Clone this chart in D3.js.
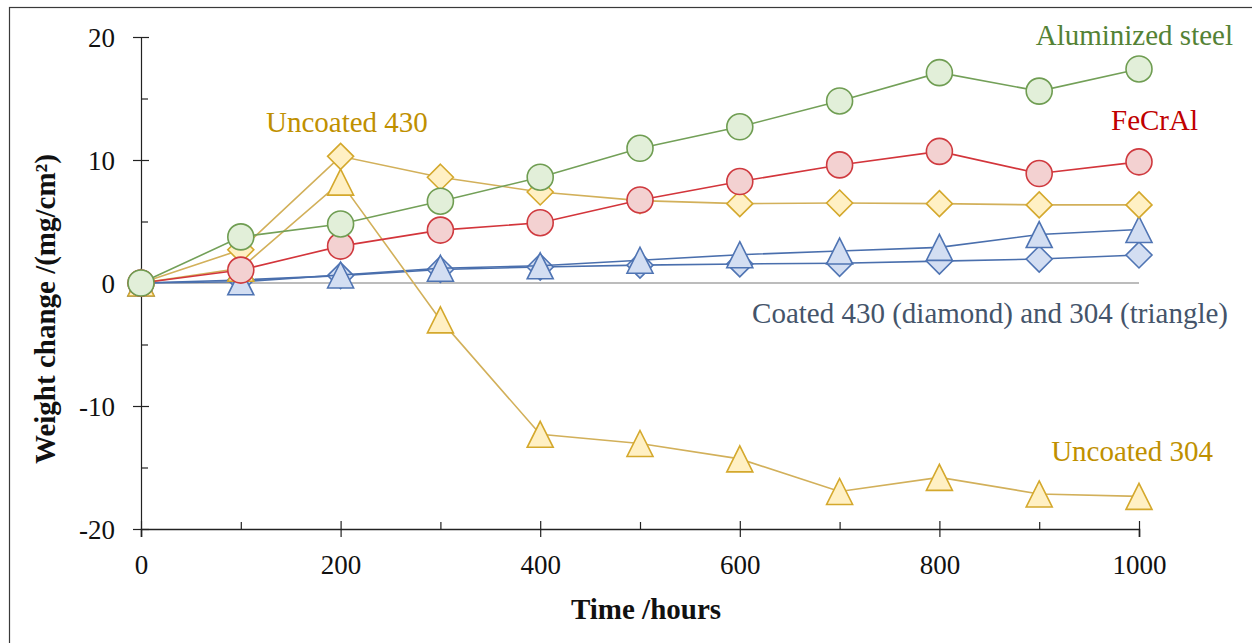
<!DOCTYPE html>
<html>
<head>
<meta charset="utf-8">
<script src="https://cdn.jsdelivr.net/npm/d3@7"></script>
<style>
  html, body { margin: 0; padding: 0; background: #fff; }
  svg { display: block; font-family: "Liberation Serif", "Times New Roman", serif; }
</style>
</head>
<body>
<svg id="chart" width="1252" height="643"></svg>
<script>
// ---- data ----
const hours = [0, 100, 200, 300, 400, 500, 600, 700, 800, 900, 1000];
const aluminizedSteel = [0, 3.75, 4.8, 6.65, 8.6, 10.95, 12.7, 14.8, 17.1, 15.6, 17.4];
const feCrAl = [0, 1.05, 3.0, 4.3, 4.9, 6.75, 8.25, 9.6, 10.7, 8.9, 9.85];
const uncoated430 = [0, 2.7, 10.3, 8.6, 7.4, 6.7, 6.45, 6.5, 6.45, 6.35, 6.35];
const uncoated304 = [0, 1.2, 8.2, -3.0, -12.3, -13.05, -14.3, -16.95, -15.8, -17.15, -17.35];
const coated430 = [0, 0.25, 0.6, 1.1, 1.3, 1.45, 1.55, 1.6, 1.78, 1.95, 2.28];
const coated304 = [0, 0.1, 0.65, 1.2, 1.4, 1.85, 2.3, 2.6, 2.9, 3.94, 4.35];
const yMajorTicks = [-20, -10, 0, 10, 20];
const yMinorTicks = [-15, -5, 5, 15];
const xMajorTicks = [0, 200, 400, 600, 800, 1000];
const xMinorTicks = [100, 300, 500, 700, 900];
const xTitle = "Time /hours";
const yTitle = "Weight change /(mg/cm²)";

const seriesList = [
  { name: "Coated 430", values: coated430, shape: "diamond", line: "#4a6fad", stroke: "#4f74b3", fill: "#d3def2" },
  { name: "Coated 304", values: coated304, shape: "triangle", line: "#4a6fad", stroke: "#4f74b3", fill: "#d3def2" },
  { name: "Uncoated 304", values: uncoated304, shape: "triangle", line: "#d2b05a", stroke: "#d4a82c", fill: "#fff0c4" },
  { name: "Uncoated 430", values: uncoated430, shape: "diamond", line: "#d2b05a", stroke: "#d4a82c", fill: "#fff0c4" },
  { name: "FeCrAl", values: feCrAl, shape: "circle", line: "#d3353b", stroke: "#cf3a3f", fill: "#f3d1d1" },
  { name: "Aluminized steel", values: aluminizedSteel, shape: "circle", line: "#73a058", stroke: "#6f9d52", fill: "#e2efd9" }
];

const labels = [
  { text: "Aluminized steel", x: 1233, y: 45, anchor: "end", color: "#548235" },
  { text: "FeCrAl", x: 1198, y: 130, anchor: "end", color: "#c00000" },
  { text: "Uncoated 430", x: 266, y: 132, anchor: "start", color: "#bf9000" },
  { text: "Coated 430 (diamond) and 304 (triangle)", x: 1228, y: 323, anchor: "end", color: "#44546a" },
  { text: "Uncoated 304", x: 1213, y: 461, anchor: "end", color: "#bf9000" }
];

// ---- drawing ----
const svg = d3.select("#chart");
const x = d3.scaleLinear().domain([0, 1000]).range([141, 1139]);
const y = d3.scaleLinear().domain([-20, 20]).range([529, 37]);
const plainFmt = d => String(d);

svg.append("rect")
  .attr("x", 9.5).attr("y", 7.5).attr("width", 1400).attr("height", 800)
  .attr("fill", "none").attr("stroke", "#3a3a3a").attr("stroke-width", 1.2);

// zero line
svg.append("line")
  .attr("x1", x(0)).attr("x2", x(1000)).attr("y1", y(0)).attr("y2", y(0))
  .attr("stroke", "#a6a6a6").attr("stroke-width", 1.6);

// Y axis
const yAxisG = svg.append("g").attr("transform", `translate(${x(0)},0)`)
  .call(d3.axisLeft(y).tickValues(yMajorTicks).tickSize(8).tickPadding(18).tickFormat(plainFmt));
yAxisG.select(".domain").attr("stroke", "#222").attr("stroke-width", 1.2);
yAxisG.selectAll(".tick line").attr("x1", 8).attr("x2", -8).attr("stroke", "#222").attr("stroke-width", 1.2);
yAxisG.selectAll(".tick text")
  .attr("font-family", "Liberation Serif, Times New Roman, serif")
  .attr("font-size", 27).attr("fill", "#111").attr("dy", "0.34em");
const yMinorG = svg.append("g").attr("transform", `translate(${x(0)},0)`)
  .call(d3.axisLeft(y).tickValues(yMinorTicks).tickSize(-7).tickFormat(""));
yMinorG.select(".domain").remove();
yMinorG.selectAll(".tick line").attr("stroke", "#222").attr("stroke-width", 1.2);

// X axis
const xAxisG = svg.append("g").attr("transform", `translate(0,${y(-20)})`)
  .call(d3.axisBottom(x).tickValues(xMajorTicks).tickSize(8).tickPadding(18).tickFormat(plainFmt));
xAxisG.select(".domain").attr("stroke", "#222").attr("stroke-width", 1.6);
xAxisG.selectAll(".tick line").attr("y1", -8).attr("y2", 8).attr("stroke", "#222").attr("stroke-width", 1.2);
xAxisG.selectAll(".tick text")
  .attr("font-family", "Liberation Serif, Times New Roman, serif")
  .attr("font-size", 27).attr("fill", "#111").attr("dy", "0.71em");
const xMinorG = svg.append("g").attr("transform", `translate(0,${y(-20)})`)
  .call(d3.axisBottom(x).tickValues(xMinorTicks).tickSize(-7).tickFormat(""));
xMinorG.select(".domain").remove();
xMinorG.selectAll(".tick line").attr("stroke", "#222").attr("stroke-width", 1.2);

// axis titles
svg.append("text").text(xTitle)
  .attr("x", 646).attr("y", 619).attr("text-anchor", "middle")
  .attr("font-weight", "bold").attr("font-size", 29).attr("fill", "#111");
svg.append("text").text(yTitle)
  .attr("transform", "translate(55,309) rotate(-90)").attr("text-anchor", "middle")
  .attr("font-weight", "bold").attr("font-size", 29).attr("fill", "#111");

// series
const lineGen = d3.line().x((d, i) => x(hours[i])).y(d => y(d));
const S = 13;
function markerPath(shape) {
  if (shape === "diamond") return `M0,${-S}L${S},0L0,${S}L${-S},0Z`;
  if (shape === "triangle") return `M0,${-S}L${S},${S}L${-S},${S}Z`;
  return null;
}
seriesList.forEach(s => {
  const g = svg.append("g");
  g.append("path").datum(s.values)
    .attr("d", lineGen).attr("fill", "none")
    .attr("stroke", s.line).attr("stroke-width", 1.6);
  const pts = g.selectAll(".m").data(s.values).enter();
  if (s.shape === "circle") {
    pts.append("circle")
      .attr("cx", (d, i) => x(hours[i])).attr("cy", d => y(d)).attr("r", S)
      .attr("fill", s.fill).attr("stroke", s.stroke).attr("stroke-width", 1.6);
  } else {
    pts.append("path")
      .attr("d", markerPath(s.shape))
      .attr("transform", (d, i) => `translate(${x(hours[i])},${y(d)})`)
      .attr("fill", s.fill).attr("stroke", s.stroke).attr("stroke-width", 1.6)
      .attr("stroke-linejoin", "miter");
  }
});

// annotations
labels.forEach(l => {
  svg.append("text").text(l.text)
    .attr("x", l.x).attr("y", l.y).attr("text-anchor", l.anchor)
    .attr("font-size", 29).attr("fill", l.color);
});
</script>
</body>
</html>
